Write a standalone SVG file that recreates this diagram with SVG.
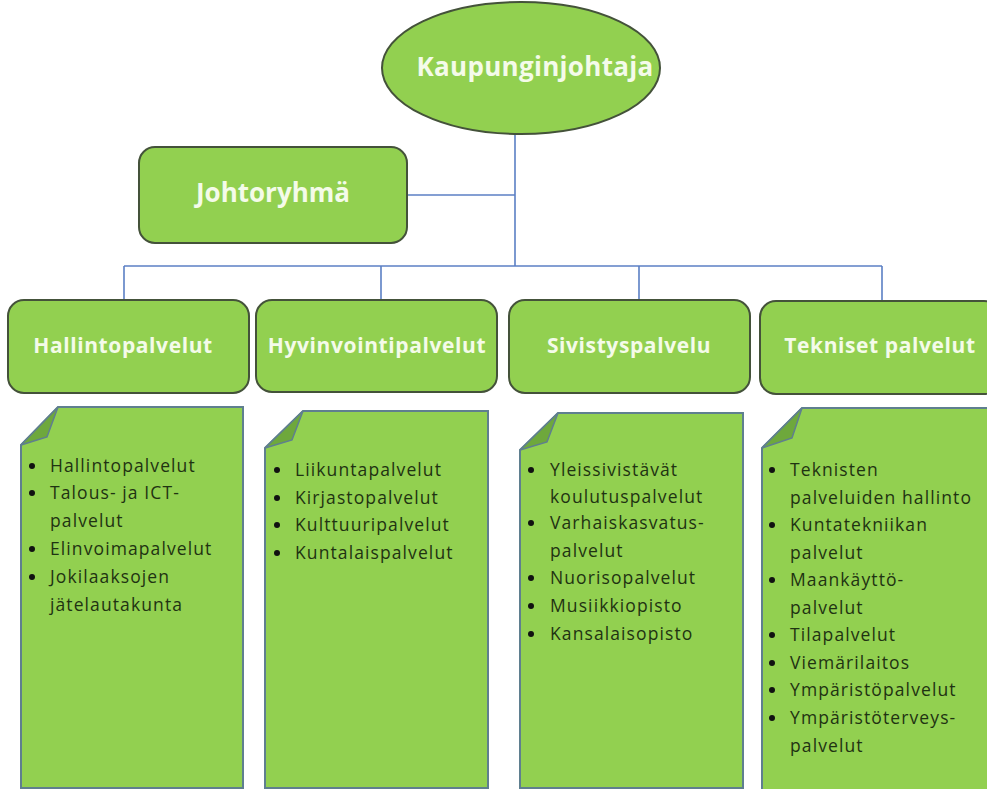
<svg xmlns="http://www.w3.org/2000/svg" width="987" height="789" viewBox="0 0 987 789">
<style>
.bg{fill:#ffffff}
.conn{stroke:#5b7fc4;stroke-width:1.6;fill:none}
.hdr{fill:#92d050;stroke:#44523a;stroke-width:2}
.note{fill:#92d050;stroke:#5f7f8f;stroke-width:2}
.fold{fill:#6ea83c;stroke:#5f7f8f;stroke-width:1.5}
.ht{font-family:"Open Sans","Liberation Sans",sans-serif;font-weight:700;fill:#f4fbe9;text-anchor:middle}
.hs{font-size:21px;letter-spacing:0.6px}
.lt{font-family:"Open Sans","Liberation Sans",sans-serif;font-size:17.5px;letter-spacing:1.1px;fill:#1f3312}
.bul{fill:#111111}
</style>
<rect class="bg" x="0" y="0" width="987" height="789"/>
<g id="connectors">
  <line class="conn" x1="515" y1="134" x2="515" y2="266"/>
  <line class="conn" x1="407" y1="195" x2="515" y2="195"/>
  <line class="conn" x1="124" y1="266" x2="882" y2="266"/>
  <line class="conn" x1="124" y1="266" x2="124" y2="300"/>
  <line class="conn" x1="381" y1="266" x2="381" y2="300"/>
  <line class="conn" x1="639" y1="266" x2="639" y2="300"/>
  <line class="conn" x1="882" y1="266" x2="882" y2="300"/>
</g>
<g id="kaupunginjohtaja">
  <ellipse class="hdr" cx="521" cy="68" rx="139" ry="66"/>
  <text class="ht" x="535" y="76" font-size="26" letter-spacing="0.3">Kaupunginjohtaja</text>
</g>
<g id="johtoryhma">
  <rect class="hdr" x="139" y="147" width="268" height="96" rx="16"/>
  <text class="ht" x="273" y="202" font-size="26">Johtoryhmä</text>
</g>
<g id="hallintopalvelut">
  <rect class="hdr" x="8" y="300" width="241" height="93" rx="16"/>
  <text class="ht hs" x="123" y="353">Hallintopalvelut</text>
</g>
<g id="hyvinvointipalvelut">
  <rect class="hdr" x="256" y="300" width="241" height="92" rx="16"/>
  <text class="ht hs" x="377" y="353">Hyvinvointipalvelut</text>
</g>
<g id="sivistyspalvelu">
  <rect class="hdr" x="509" y="300" width="241" height="93" rx="16"/>
  <text class="ht hs" x="629" y="353">Sivistyspalvelu</text>
</g>
<g id="tekniset">
  <rect class="hdr" x="760" y="301" width="240" height="93" rx="16"/>
  <text class="ht hs" x="880" y="353">Tekniset palvelut</text>
</g>
<g id="note1">
  <path class="note" d="M58,407 L243,407 L243,788 L21,788 L21,445 Z"/>
  <path class="fold" d="M58,407 L47,437 L21,445 Z"/>
  <g class="bul">
    <circle cx="32" cy="466" r="3"/><circle cx="32" cy="493" r="3"/><circle cx="32" cy="549" r="3"/><circle cx="32" cy="577" r="3"/>
  </g>
  <text class="lt" x="50" y="472">Hallintopalvelut</text>
  <text class="lt" x="50" y="499">Talous- ja ICT-</text>
  <text class="lt" x="50" y="527">palvelut</text>
  <text class="lt" x="50" y="555">Elinvoimapalvelut</text>
  <text class="lt" x="50" y="583">Jokilaaksojen</text>
  <text class="lt" x="50" y="611">jätelautakunta</text>
</g>
<g id="note2">
  <path class="note" d="M303,411 L488,411 L488,788 L265,788 L265,448 Z"/>
  <path class="fold" d="M303,411 L292,440 L265,448 Z"/>
  <g class="bul">
    <circle cx="277" cy="470" r="3"/><circle cx="277" cy="498" r="3"/><circle cx="277" cy="525" r="3"/><circle cx="277" cy="553" r="3"/>
  </g>
  <text class="lt" x="295" y="476">Liikuntapalvelut</text>
  <text class="lt" x="295" y="504">Kirjastopalvelut</text>
  <text class="lt" x="295" y="531">Kulttuuripalvelut</text>
  <text class="lt" x="295" y="559">Kuntalaispalvelut</text>
</g>
<g id="note3">
  <path class="note" d="M558,413 L743,413 L743,788 L520,788 L520,450 Z"/>
  <path class="fold" d="M558,413 L547,442 L520,450 Z"/>
  <g class="bul">
    <circle cx="531" cy="470" r="3"/><circle cx="531" cy="523" r="3"/><circle cx="531" cy="578" r="3"/><circle cx="531" cy="606" r="3"/><circle cx="531" cy="634" r="3"/>
  </g>
  <text class="lt" x="550" y="476">Yleissivistävät</text>
  <text class="lt" x="550" y="503">koulutuspalvelut</text>
  <text class="lt" x="550" y="529">Varhaiskasvatus-</text>
  <text class="lt" x="550" y="557">palvelut</text>
  <text class="lt" x="550" y="584">Nuorisopalvelut</text>
  <text class="lt" x="550" y="612">Musiikkiopisto</text>
  <text class="lt" x="550" y="640">Kansalaisopisto</text>
</g>
<g id="note4">
  <path class="note" d="M802,408 L995,408 L995,795 L762,795 L762,448 Z"/>
  <path class="fold" d="M802,408 L792,438 L762,448 Z"/>
  <g class="bul">
    <circle cx="772" cy="470" r="3"/><circle cx="772" cy="525" r="3"/><circle cx="772" cy="580" r="3"/><circle cx="772" cy="635" r="3"/><circle cx="772" cy="663" r="3"/><circle cx="772" cy="690" r="3"/><circle cx="772" cy="718" r="3"/>
  </g>
  <text class="lt" x="790" y="476">Teknisten</text>
  <text class="lt" x="790" y="504">palveluiden hallinto</text>
  <text class="lt" x="790" y="531">Kuntatekniikan</text>
  <text class="lt" x="790" y="559">palvelut</text>
  <text class="lt" x="790" y="586">Maankäyttö-</text>
  <text class="lt" x="790" y="614">palvelut</text>
  <text class="lt" x="790" y="641">Tilapalvelut</text>
  <text class="lt" x="790" y="669">Viemärilaitos</text>
  <text class="lt" x="790" y="696">Ympäristöpalvelut</text>
  <text class="lt" x="790" y="724">Ympäristöterveys-</text>
  <text class="lt" x="790" y="752">palvelut</text>
</g>
</svg>
